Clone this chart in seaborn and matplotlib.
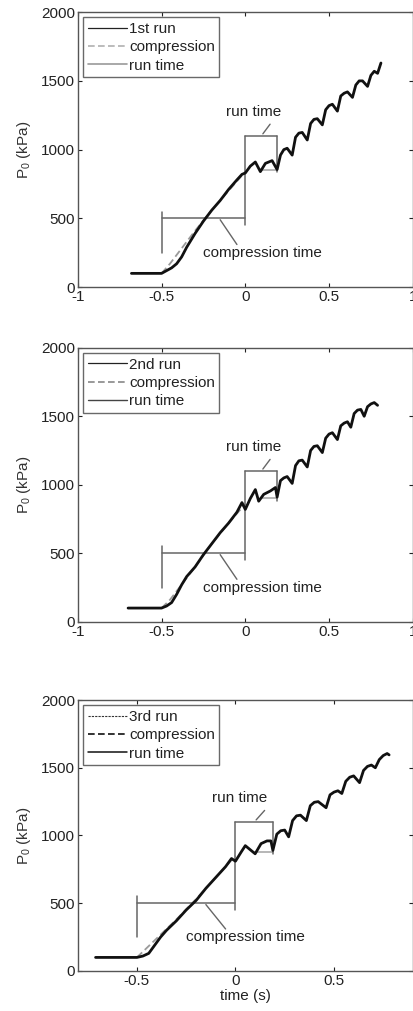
import pandas as pd
import seaborn as sns
import matplotlib.pyplot as plt

# Pressure traces (time in s, P0 in kPa)
t_run1 = [-0.68, -0.5, -0.47, -0.44, -0.41, -0.38, -0.35, -0.3, -0.25, -0.2, -0.15, -0.1, -0.05, -0.02, 0.0,
          0.03, 0.06, 0.09, 0.12, 0.16, 0.19, 0.21, 0.23, 0.25, 0.28, 0.30, 0.32, 0.34, 0.37, 0.39, 0.41, 0.43,
          0.46, 0.48, 0.50, 0.52, 0.55, 0.57, 0.59, 0.61, 0.64, 0.66, 0.68, 0.70, 0.73, 0.75, 0.77, 0.79, 0.81]
p_run1 = [100, 100, 120, 140, 170, 220, 290, 390, 480, 560, 630, 710, 780, 820, 830,
          880, 910, 840, 900, 920, 855, 960, 1000, 1010, 960, 1090, 1120, 1125, 1070, 1190, 1220, 1225,
          1180, 1290, 1320, 1330, 1280, 1390, 1410, 1420, 1380, 1470, 1500, 1500, 1460, 1540, 1570, 1555, 1630]

t_run2 = [-0.7, -0.5, -0.47, -0.44, -0.41, -0.38, -0.35, -0.3, -0.25, -0.2, -0.15, -0.1, -0.05, -0.02, 0.0,
          0.03, 0.06, 0.08, 0.11, 0.15, 0.18, 0.19, 0.21, 0.23, 0.25, 0.28, 0.30, 0.32, 0.34, 0.37, 0.39, 0.41,
          0.43, 0.46, 0.48, 0.50, 0.52, 0.55, 0.57, 0.59, 0.61, 0.63, 0.65, 0.67, 0.69, 0.71, 0.73, 0.75, 0.77, 0.79]
p_run2 = [100, 100, 115, 140, 200, 270, 330, 400, 490, 570, 650, 720, 800, 870, 820,
          900, 965, 880, 930, 955, 980, 910, 1030, 1050, 1060, 1010, 1140, 1175, 1180, 1130, 1250, 1280,
          1285, 1235, 1340, 1370, 1380, 1330, 1430, 1450, 1460, 1420, 1520, 1545, 1550, 1500, 1570, 1590, 1600, 1580]

t_run3 = [-0.71, -0.5, -0.47, -0.44, -0.41, -0.38, -0.35, -0.3, -0.25, -0.2, -0.15, -0.1, -0.05, -0.02, 0.0,
          0.03, 0.05, 0.1, 0.13, 0.16, 0.18, 0.19, 0.21, 0.23, 0.25, 0.27, 0.29, 0.31, 0.33, 0.36, 0.38, 0.40,
          0.42, 0.46, 0.48, 0.50, 0.52, 0.54, 0.56, 0.58, 0.60, 0.63, 0.65, 0.67, 0.69, 0.71, 0.73, 0.75, 0.77, 0.78]
p_run3 = [100, 100, 110, 130, 190, 250, 300, 370, 450, 520, 610, 690, 770, 830, 810,
          880, 925, 865, 940, 960, 960, 890, 1010, 1035, 1040, 990, 1110, 1145, 1150, 1110, 1220, 1245,
          1250, 1205, 1300, 1320, 1330, 1310, 1400, 1430, 1440, 1390, 1480, 1510, 1520, 1500, 1560, 1590, 1605, 1595]

# compression (dashed) traces
t_comp = [-0.5, -0.45, -0.4, -0.35, -0.3, -0.2, -0.1, 0.0]
p_comp1 = [100, 170, 250, 330, 410, 560, 700, 840]
p_comp2 = [100, 160, 240, 320, 400, 570, 720, 860]
p_comp3 = [100, 170, 240, 310, 380, 530, 690, 850]

# run time segment
t_rt = [0.1, 0.19]
p_rt1 = [855, 855]
p_rt2 = [905, 905]
p_rt3 = [880, 880]

run_labels = ['1st run', '2nd run', '3rd run']
xlims = [(-1, 1), (-1, 1), (-0.8, 0.9)]

runs = [(t_run1, p_run1), (t_run2, p_run2), (t_run3, p_run3)]
comps = [p_comp1, p_comp2, p_comp3]
rts = [p_rt1, p_rt2, p_rt3]

# legend styles per panel (run, compression, run time)
legStyles = [
    [('#222222', '-', 0.9), ('#b0b0b0', (0, (4, 2)), 1.2), ('#9a9a9a', '-', 1.2)],
    [('#222222', '-', 0.9), ('#888888', (0, (4, 2)), 1.2), ('#444444', '-', 1.0)],
    [('#333333', (0, (2, 1)), 0.8), ('#111111', (0, (4, 2)), 1.2), ('#111111', '-', 1.1)],
]

fs = 11
sns.set_style("ticks")
plt.rcParams['font.family'] = ['Liberation Sans', 'DejaVu Sans']
plt.rcParams['mathtext.fontset'] = 'custom'
plt.rcParams['mathtext.rm'] = 'Liberation Sans'
plt.rcParams['mathtext.it'] = 'Liberation Sans'
plt.rcParams['font.size'] = fs

fig = plt.figure(figsize=(4.14, 10.11), dpi=100)
axPos = [[0.188, 0.716, 0.809, 0.272],
         [0.188, 0.385, 0.809, 0.271],
         [0.188, 0.0396, 0.809, 0.268]]

bracketCol = '#666666'
txtCol = '#222222'
for i in range(3):
    ax = fig.add_axes(axPos[i])
    t, p = runs[i]
    dfRun = pd.DataFrame({'t': t, 'p': p})
    dfComp = pd.DataFrame({'t': t_comp, 'p': comps[i]})
    dfRt = pd.DataFrame({'t': t_rt, 'p': rts[i]})
    st = legStyles[i]

    sns.lineplot(data=dfComp, x='t', y='p', ax=ax, color='#9a9a9a', lw=1.3, linestyle=(0, (4, 2)),
                 sort=False, estimator=None, zorder=2)
    sns.lineplot(data=dfRt, x='t', y='p', ax=ax, color='#aaaaaa', lw=1.2, sort=False, estimator=None, zorder=2)
    sns.lineplot(data=dfRun, x='t', y='p', ax=ax, color='#111111', lw=2.0, sort=False, estimator=None, zorder=3)

    # brackets for compression time and run time
    ax.plot([-0.5, -0.5], [250, 550], color=bracketCol, lw=1.1)
    ax.plot([-0.5, 0], [500, 500], color=bracketCol, lw=1.1)
    ax.plot([0, 0], [450, 1100], color=bracketCol, lw=1.1)
    ax.plot([0, 0.19], [1100, 1100], color=bracketCol, lw=1.1)
    ax.plot([0.19, 0.19], [rts[i][0] - 20, 1100], color=bracketCol, lw=1.1)
    ax.plot([-0.15, -0.05], [490, 310], color=bracketCol, lw=1.0)
    ax.plot([0.105, 0.148], [1115, 1185], color=bracketCol, lw=1.0)
    ax.text(0.1 if i < 2 else 0.05, 250, 'compression time', ha='center', va='center',
            fontsize=fs, color=txtCol)
    ax.text(0.05 if i < 2 else 0.02, 1275, 'run time', ha='center', va='center', fontsize=fs, color=txtCol)

    # legend
    hs = [plt.Line2D([], [], color=c, linestyle=ls, lw=lw) for c, ls, lw in st]
    leg = ax.legend(hs, [run_labels[i], 'compression', 'run time'], loc='upper left', fontsize=fs,
                    frameon=True, fancybox=False, handlelength=2.6, handletextpad=0.1,
                    borderpad=0.3, labelspacing=0.28, borderaxespad=0.35)
    leg.get_frame().set_edgecolor('#444444')
    leg.get_frame().set_linewidth(1.0)
    for tx in leg.get_texts():
        tx.set_color(txtCol)

    ax.set_xlim(*xlims[i])
    ax.set_ylim(0, 2000)
    ax.set_yticks([0, 500, 1000, 1500, 2000])
    if i < 2:
        ax.set_xticks([-1, -0.5, 0, 0.5, 1])
        ax.set_xticklabels(['-1', '-0.5', '0', '0.5', '1'])
        ax.set_xlabel('')
    else:
        ax.set_xticks([-0.5, 0, 0.5])
        ax.set_xticklabels(['-0.5', '0', '0.5'])
        ax.set_xlabel('time (s)', fontsize=fs, labelpad=1, color=txtCol)
    ax.set_ylabel(r'P$_0$ (kPa)', fontsize=fs, labelpad=6, color='#333333')
    ax.tick_params(direction='in', top=True, right=True, length=3, labelsize=fs, colors=txtCol, pad=2)
    for s in ax.spines.values():
        s.set_color('#555555')
        s.set_linewidth(1.0)

fig.savefig('out.png', dpi=100)
